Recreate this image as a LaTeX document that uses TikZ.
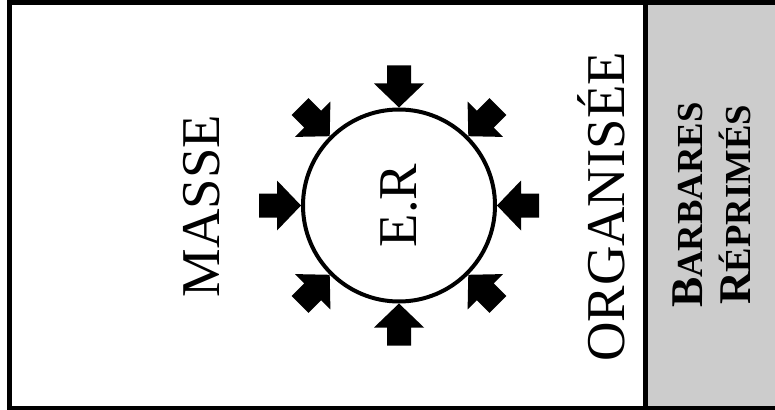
\documentclass[tikz,border=0pt]{standalone}
\usepackage{fontspec}
\setmainfont{Liberation Serif}
\definecolor{grisPanneau}{HTML}{CCCCCC}
\newcommand{\petitesCap}[1]{{\fontsize{27.5}{36}\selectfont #1}}

\begin{document}
\begin{tikzpicture}[
        x=0.75pt, y=-0.75pt,
        cadre/.style={draw=black, line width=3.75pt},
        anneau/.style={circle, draw=black, line width=3pt, minimum size=144pt, inner sep=0pt},
        texteGrand/.style={rotate=90, inner sep=0pt, font=\fontsize{41}{48}\selectfont},
        texteBarbares/.style={rotate=90, inner sep=0pt, align=center, font=\bfseries\fontsize{34}{36}\selectfont},
        fleche/.style={fill=black}
    ]
        \useasboundingbox (0,0) rectangle (775,410);
        \clip (0,0) rectangle (775,410);
        \fill[white] (0,0) rectangle (775,410);
        \fill[grisPanneau] (645.5,2.5) rectangle (780,408);
        \draw[cadre] (9.5,2.5) rectangle (780,408);
        \draw[cadre] (645.5,2.5) -- (645.5,408);

        \node[anneau] (er) at (399,205.5) {};
        \node[texteGrand] (erTexte) at (er.center) {E.R};

        % fleches vers le centre
        \begin{scope}[shift={(er.center)}]
            \foreach \ang in {0,45,...,315}
                \fill[fleche, rotate=\ang] (98,0) -- (122,25) -- (122,12) -- (140,12)
                    -- (140,-12) -- (122,-12) -- (122,-25) -- cycle;
        \end{scope}

        \node[texteGrand] (masse) at (202,206) {MASSE};
        \node[texteGrand] (organisee) at (601,207) {ORGANISÉE};
        \node[texteBarbares] (barbares) at (712,205) {B\petitesCap{ARBARES}\\R\petitesCap{ÉPRIMÉS}};
    \end{tikzpicture}
\end{document}
